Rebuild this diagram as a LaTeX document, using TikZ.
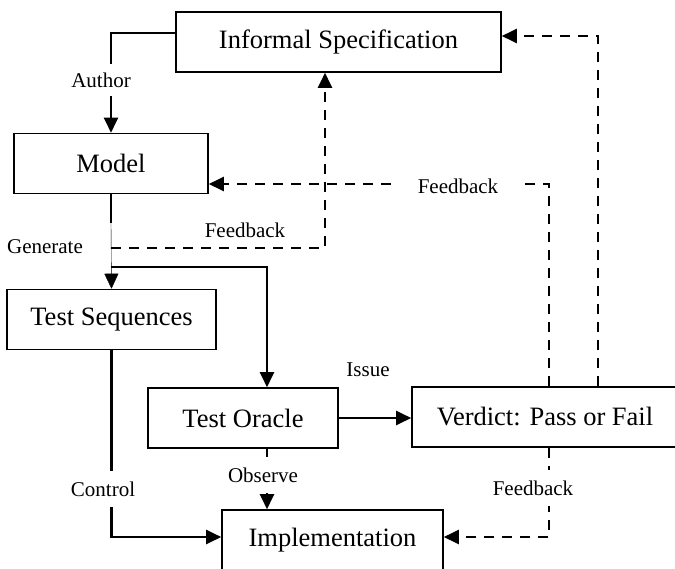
\documentclass[tikz,border=0pt]{standalone}
\usepackage{fontspec}
\setmainfont{Liberation Serif}
\usetikzlibrary{arrows.meta,positioning}

\begin{document}
\begin{tikzpicture}[x=1pt, y=-1pt,
        block/.style={draw, line width=1.6pt, minimum height=60pt, inner sep=0pt, font=\fontsize{26.5}{30}\selectfont},
        tip/.style={-{Triangle[length=15pt,width=14pt]}},
        wire/.style={tip, line width=2.3pt},
        feedback/.style={wire, dash pattern=on 10pt off 8pt},
        tag/.style={font=\fontsize{21}{24}\selectfont},
        gap/.style={tag, fill=white, inner xsep=4pt, inner ysep=9pt}
    ]

    % Page frame
    \clip (0,0) rectangle (675,568);

    % Blocks
    \node[block, minimum width=325pt] (infspec) at (338.5,42) {Informal Specification};
    \node[block, minimum width=194pt] (model) at (111,163.5) {Model};
    \node[block, minimum width=209pt] (testseq) at (111.5,319.5) {Test Sequences};
    \node[block, minimum width=190pt] (oracle) at (243,418) {Test Oracle};
    \node[block, minimum width=266pt] (verdict) at (545,417) {Verdict: Pass or Fail};
    \node[block, minimum width=221pt] (impl) at (332.5,540) {Implementation};

    % Junctions below the model
    \coordinate (gensplit) at (111,223);
    \coordinate (fbstart) at (111,248);
    \coordinate (branch) at (111,267);

    % Author and generate
    \draw[wire] ([yshift=9pt]infspec.west) -| (model.north);
    \draw[wire, -] (model.south) -- (gensplit);
    \draw[tip, thin] (gensplit) -- (testseq.north);
    \draw[wire] (branch) -| ([xshift=24pt]oracle.north);

    % Feedback loops
    \draw[feedback] (fbstart) -| ([xshift=-13.5pt]infspec.south);
    \draw[feedback] ([xshift=4pt]verdict.north) |- ([yshift=-20.5pt]model.east);
    \draw[feedback] ([xshift=53pt]verdict.north) |- ([yshift=6pt]infspec.east);
    \draw[feedback] ([xshift=4pt]verdict.south) |- ([yshift=3pt]impl.east);

    % Issue, observe, control
    \draw[wire] (oracle.east) -- (oracle.east -| verdict.west);
    \draw[wire] ([xshift=24pt]oracle.south) -- ([xshift=-65.5pt]impl.north);
    \draw[wire] (testseq.south) |- ([yshift=3pt]impl.west);

    % Labels
    \node[gap] (author) at (101,80) {Author};
    \node[tag] (generate) at (45,247) {Generate};
    \node[tag] (fbspec) at (245,230) {Feedback};
    \node[gap, inner xsep=22pt, inner ysep=3pt] (fbmodel) at (458,186) {Feedback};
    \node[tag] (issue) at (368,370) {Issue};
    \node[gap, inner ysep=11pt] (observe) at (263,475) {Observe};
    \node[gap, inner ysep=11pt] (control) at (103,489) {Control};
    \node[gap, inner ysep=11pt] (fbimpl) at (533,488) {Feedback};

\end{tikzpicture}
\end{document}
